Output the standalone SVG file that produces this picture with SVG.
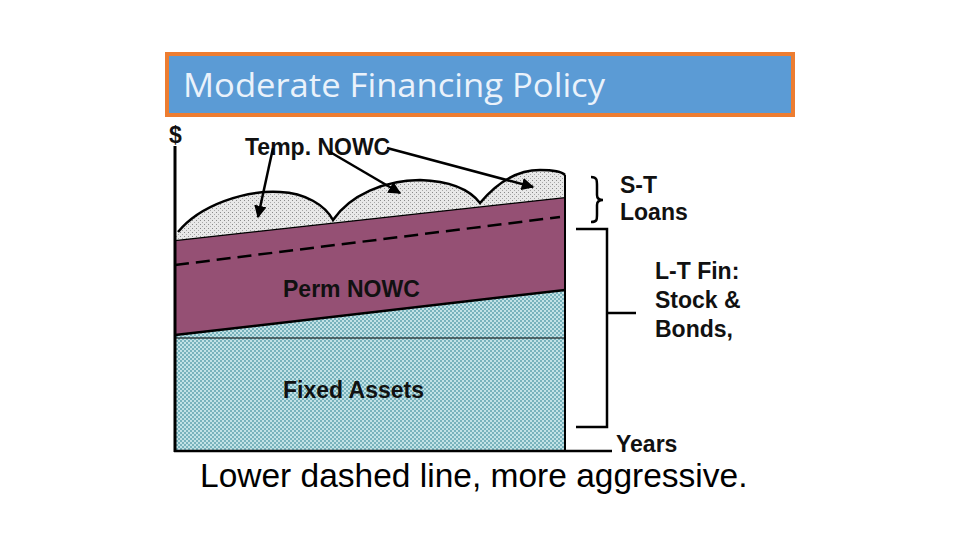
<svg xmlns="http://www.w3.org/2000/svg" width="960" height="540" viewBox="0 0 960 540">
<defs>
<style>
.lbl{font-family:"Liberation Sans",Arial,sans-serif;font-size:23px;fill:#111;font-weight:bold;}
.ln{stroke:#000;fill:none;stroke-width:2.5;}
</style>
<pattern id="dots" width="4" height="4" patternUnits="userSpaceOnUse">
<rect width="4" height="4" fill="#e8e8e8"/>
<rect x="0" y="0" width="1" height="1" fill="#8a8a8a"/>
<rect x="2" y="2" width="1" height="1" fill="#a8a8a8"/>
</pattern>
<pattern id="check" width="4" height="4" patternUnits="userSpaceOnUse">
<rect width="4" height="4" fill="#c2e2e6"/>
<rect x="0" y="0" width="2" height="2" fill="#78b2bc"/>
<rect x="2" y="2" width="2" height="2" fill="#78b2bc"/>
</pattern>
<marker id="ah" viewBox="0 0 10 10" refX="9" refY="5" markerWidth="5" markerHeight="5" orient="auto" markerUnits="strokeWidth">
<path d="M0,0 L10,5 L0,10 Z" fill="#000"/>
</marker>
</defs>
<rect width="960" height="540" fill="#fff"/>

<g id="title">
<rect x="167" y="54" width="626" height="61" fill="#5b9bd5" stroke="#ed7d31" stroke-width="4"/>
<text x="183" y="97" font-family="'Open Sans','Noto Sans',sans-serif" font-size="33" fill="#eaf2fb" textLength="422" lengthAdjust="spacingAndGlyphs">Moderate Financing Policy</text>
</g>

<g id="fixed-assets">
<path d="M175,335 L565,290 L565,451 L175,451 Z" fill="url(#check)"/>
<line x1="175" y1="338" x2="565" y2="338" stroke="#000" stroke-width="1"/>
<text class="lbl" x="283" y="398">Fixed Assets</text>
</g>

<g id="perm-nowc">
<path d="M175,240 L565,197 L565,290 L175,335 Z" fill="#955074"/>
<line class="ln" x1="175" y1="240" x2="565" y2="197"/>
<line class="ln" x1="175" y1="335" x2="565" y2="290"/>
<text class="lbl" x="283" y="297">Perm NOWC</text>
</g>

<g id="temp-nowc">
<path d="M175,240 L178,232 C200,205 245,190 280,192 C305,193 325,205 333,220 C350,195 385,180 420,180 C450,181 470,190 480,203 C495,185 515,170 540,170 C555,170 562,172 565,175 L565,197 Z" fill="url(#dots)"/>
<path class="ln" d="M178,232 C200,205 245,190 280,192 C305,193 325,205 333,220 C350,195 385,180 420,180 C450,181 470,190 480,203 C495,185 515,170 540,170 C555,170 562,172 565,175"/>
<text class="lbl" x="245" y="155">Temp. NOWC</text>
</g>

<g id="dashed-line">
<line x1="175" y1="265" x2="560" y2="217" stroke="#000" stroke-width="2.5" stroke-dasharray="14 7"/>
</g>

<g id="axes">
<line x1="175" y1="146" x2="175" y2="452" stroke="#000" stroke-width="3"/>
<line x1="565" y1="175" x2="565" y2="452" stroke="#000" stroke-width="2"/>
<line x1="174" y1="451" x2="612" y2="451" stroke="#000" stroke-width="2.5"/>
<text class="lbl" x="169" y="143" font-size="20">$</text>
<text class="lbl" x="616" y="452" font-size="22">Years</text>
</g>

<g id="st-loans">
<path class="ln" d="M591,177 C597,177 597,180 597,186 L597,195 C597,199 600,200 603,200 C600,200 597,201 597,205 L597,214 C597,220 597,222 591,222"/>
<text class="lbl" x="620" y="193">S-T</text>
<text class="lbl" x="620" y="220">Loans</text>
</g>

<g id="lt-fin">
<path class="ln" d="M576,229 L607,229 L607,427 L576,427"/>
<line class="ln" x1="607" y1="313" x2="636" y2="313"/>
<text class="lbl" x="655" y="279">L-T Fin:</text>
<text class="lbl" x="655" y="308">Stock &amp;</text>
<text class="lbl" x="655" y="337">Bonds,</text>
</g>

<g id="connectors">
<line class="ln" x1="273" y1="148" x2="258" y2="217" marker-end="url(#ah)"/>
<line class="ln" x1="330" y1="152" x2="400" y2="193" marker-end="url(#ah)"/>
<line class="ln" x1="387" y1="148" x2="533" y2="187" marker-end="url(#ah)"/>
</g>

<g id="caption">
<text x="200" y="487" font-family="'Liberation Sans',Arial,sans-serif" font-size="33.5" fill="#000">Lower dashed line, more aggressive.</text>
</g>
</svg>
